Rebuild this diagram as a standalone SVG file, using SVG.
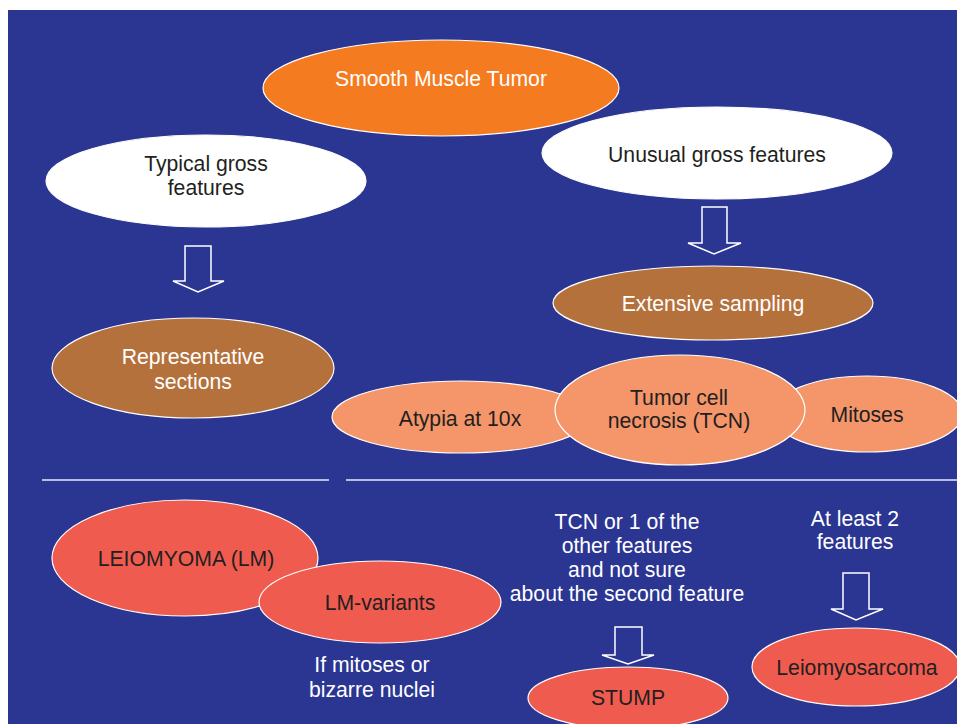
<svg xmlns="http://www.w3.org/2000/svg" width="957" height="724" viewBox="0 0 957 724">
  <style>
    .bg { fill: #2b3592; }
    .node ellipse { stroke: #ffffff; stroke-width: 1.2; }
    .orange { fill: #f47b20; }
    .white { fill: #ffffff; }
    .brown { fill: #b5713c; }
    .salmon { fill: #f5956a; }
    .red { fill: #f05b50; }
    text { font-family: "Liberation Sans", Arial, sans-serif; font-size: 21.2px; text-anchor: middle; dominant-baseline: central; }
    .dark { fill: #231f20; }
    .light { fill: #ffffff; }
    .arrow { fill: none; stroke: #ffffff; stroke-width: 1.5; stroke-linejoin: miter; }
    .rule { stroke: #b8bce2; stroke-width: 2; }
  </style>

  <rect class="bg" x="8" y="10" width="949" height="714"/>

  <!-- divider rules -->
  <g id="dividers">
    <line class="rule" x1="42" y1="480" x2="329" y2="480"/>
    <line class="rule" x1="346" y1="480" x2="957" y2="480"/>
  </g>

  <!-- block arrows -->
  <g id="connectors">
    <path class="arrow" d="M185,246 H211 V281 H224 L198,292 L173,281 H185 Z"/>
    <path class="arrow" d="M702,207 H727 V243 H741 L714,254 L688,243 H702 Z"/>
    <path class="arrow" d="M615,627 H642 V655 H654 L628,664 L602,655 H615 Z"/>
    <path class="arrow" d="M843,573 H869 V609 H883 L856,620 L831,609 H843 Z"/>
  </g>

  <g id="typical" class="node">
    <ellipse class="white" cx="206" cy="181" rx="160" ry="46"/>
    <text class="dark" x="206" y="163">Typical gross</text>
    <text class="dark" x="206" y="187">features</text>
  </g>

  <g id="unusual" class="node">
    <ellipse class="white" cx="717" cy="153" rx="175" ry="46"/>
    <text class="dark" x="717" y="154">Unusual gross features</text>
  </g>

  <g id="smt" class="node">
    <ellipse class="orange" cx="441" cy="88" rx="178" ry="48"/>
    <text class="light" x="441" y="78">Smooth Muscle Tumor</text>
  </g>

  <g id="representative" class="node">
    <ellipse class="brown" cx="193" cy="368" rx="141" ry="50"/>
    <text class="light" x="193" y="356">Representative</text>
    <text class="light" x="193" y="381">sections</text>
  </g>

  <g id="extensive" class="node">
    <ellipse class="brown" cx="713" cy="303" rx="160" ry="37"/>
    <text class="light" x="713" y="303">Extensive sampling</text>
  </g>

  <g id="atypia" class="node">
    <ellipse class="salmon" cx="461" cy="417" rx="129" ry="36"/>
    <text class="dark" x="460" y="418">Atypia at 10x</text>
  </g>

  <g id="mitoses" class="node">
    <ellipse class="salmon" cx="867" cy="414" rx="95" ry="38"/>
    <text class="dark" x="867" y="414">Mitoses</text>
  </g>

  <g id="tcn" class="node">
    <ellipse class="salmon" cx="680" cy="410" rx="125" ry="55"/>
    <text class="dark" x="679" y="397">Tumor cell</text>
    <text class="dark" x="679" y="420">necrosis (TCN)</text>
  </g>

  <g id="leiomyoma" class="node">
    <ellipse class="red" cx="185" cy="558" rx="133" ry="58"/>
    <text class="dark" x="186" y="558">LEIOMYOMA (LM)</text>
  </g>

  <g id="lm-variants" class="node">
    <ellipse class="red" cx="380" cy="602" rx="121" ry="41"/>
    <text class="dark" x="380" y="602">LM-variants</text>
  </g>

  <g id="lm-note">
    <text class="light" x="372" y="664">If mitoses or</text>
    <text class="light" x="372" y="689">bizarre nuclei</text>
  </g>

  <g id="stump-note">
    <text class="light" x="627" y="521">TCN or 1 of the</text>
    <text class="light" x="627" y="545">other features</text>
    <text class="light" x="627" y="569">and not sure</text>
    <text class="light" x="627" y="593">about the second feature</text>
  </g>

  <g id="lms-note">
    <text class="light" x="855" y="518">At least 2</text>
    <text class="light" x="855" y="541">features</text>
  </g>

  <g id="stump" class="node">
    <ellipse class="red" cx="628" cy="698" rx="100" ry="31"/>
    <text class="dark" x="628" y="697">STUMP</text>
  </g>

  <g id="leiomyosarcoma" class="node">
    <ellipse class="red" cx="856" cy="667" rx="104" ry="39"/>
    <text class="dark" x="857" y="667">Leiomyosarcoma</text>
  </g>
</svg>
